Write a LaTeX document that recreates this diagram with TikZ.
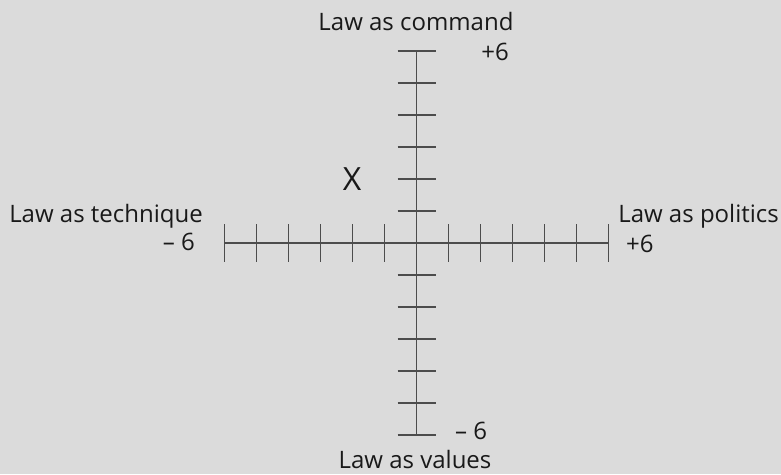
\documentclass[tikz,border=0pt]{standalone}
\usepackage{fontspec}
\setmainfont{Open Sans}
\begin{document}
\begin{tikzpicture}[x=1pt,y=-1pt,
  axis/.style={draw=black!70,line width=1.8pt},
  lbl/.style={font=\fontsize{24}{28}\selectfont,inner sep=0pt,text=black!90}]
\fill[black!14] (0,0) rectangle (781,474);
\useasboundingbox (0,0) rectangle (781,474);
\coordinate (L) at (224,242.7);
\coordinate (R) at (608,242.7);
\coordinate (T) at (416.5,50.7);
\coordinate (B) at (416.5,434.7);
\draw[axis] (L) -- (R);
\draw[axis] (T) -- (B);
\foreach \i in {-6,...,6}{
  \ifnum\i=0\else
  \draw[axis] (416.5+32*\i,224.3) -- (416.5+32*\i,261.7);
  \draw[axis] (397.5,242.7+32*\i) -- (435.5,242.7+32*\i);
  \fi
}
\node[lbl,anchor=base] (cmd) at (416,30.7) {Law as command};
\node[lbl,anchor=base] (pt) at (495,60) {+6};
\node[lbl,font=\fontsize{32}{36}\selectfont,anchor=base] (x) at (352,190.7) {X};
\node[lbl,anchor=base east] (tech) at (203,222.3) {Law as technique};
\node[lbl,anchor=base east] (mt) at (195,250) {– 6};
\node[lbl,anchor=base east] (pol) at (779,222.3) {Law as politics};
\node[lbl,anchor=base west] (pr) at (626,252) {+6};
\node[lbl,anchor=base west] (mb) at (455,439) {– 6};
\node[lbl,anchor=base] (val) at (415,468) {Law as values};
\end{tikzpicture}
\end{document}
